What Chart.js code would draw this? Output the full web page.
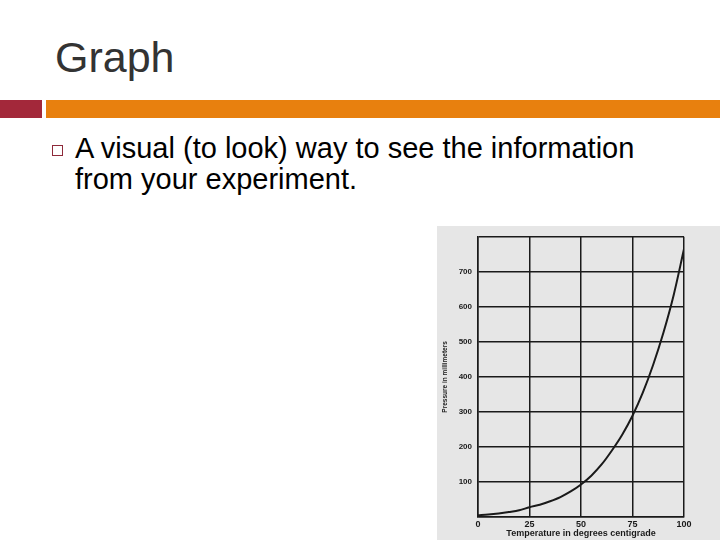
<!DOCTYPE html>
<html>
<head>
<meta charset="utf-8">
<script src="https://cdn.jsdelivr.net/npm/chart.js@4"></script>
<style>
  html, body { margin: 0; padding: 0; background: #fff; }
  #slide { position: relative; width: 720px; height: 540px; overflow: hidden; font-family: "Liberation Sans", Arial, sans-serif; }
  #title { position: absolute; left: 55px; top: 36px; font-size: 43px; color: #333; line-height: 1; }
  #bar-red { position: absolute; left: 0; top: 100px; width: 42px; height: 18px; background: #a3283a; }
  #bar-orange { position: absolute; left: 46px; top: 100px; width: 674px; height: 18px; background: #e8800e; }
  #bullet { position: absolute; left: 52px; top: 145px; width: 9px; height: 9px; border: 1.5px solid #8e2a3a; }
  #text { position: absolute; left: 75px; top: 133px; font-size: 29px; line-height: 31px; color: #000; }
  #scan { position: absolute; left: 437px; top: 226px; width: 283px; height: 314px; background: #e6e6e6; }
</style>
</head>
<body>
<div id="slide">
  <div id="title">Graph</div>
  <div id="bar-red"></div>
  <div id="bar-orange"></div>
  <div id="bullet"></div>
  <div id="text">A visual (to look) way to see the information<br>from your experiment.</div>
  <div id="scan"><canvas id="main-chart" width="283" height="314"></canvas></div>
</div>
<script>
// ── Data ─────────────────────────────────────────────────────────────────────
const temperatures = [0, 5, 10, 15, 20, 25, 30, 35, 40, 45, 50, 55, 60, 65, 70, 75, 80, 85, 90, 95, 100];
const pressures    = [5, 7, 10, 14, 19, 28, 35, 45, 57, 73, 93, 118, 150, 190, 235, 289, 355, 434, 526, 634, 765];
const xTicks = [0, 25, 50, 75, 100];
const yTicks = [100, 200, 300, 400, 500, 600, 700];

const INK = "#1a1a1a";

new Chart(document.getElementById("main-chart"), {
  type: "line",
  data: {
    datasets: [{
      data: temperatures.map((t, i) => ({ x: t, y: pressures[i] })),
      borderColor: INK,
      borderWidth: 2,
      pointRadius: 0,
      cubicInterpolationMode: "monotone",
      fill: false,
    }],
  },
  options: {
    responsive: false,
    animation: false,
    layout: { padding: { top: 9, right: 36, left: 0, bottom: 0 } },
    plugins: { legend: { display: false }, tooltip: { enabled: false } },
    scales: {
      x: {
        type: "linear",
        min: 0, max: 100,
        afterBuildTicks: s => { s.ticks = xTicks.map(v => ({ value: v })); },
        afterFit: s => { s.height = 23; },
        grid: { color: INK, lineWidth: 1.5, drawTicks: false },
        border: { color: INK, width: 1.5 },
        ticks: { color: INK, padding: 2, font: { family: "Liberation Sans", size: 9, weight: "bold" } },
        title: {
          display: true, text: "Temperature in degrees centigrade", color: INK,
          padding: { top: 0, bottom: 1 },
          font: { family: "Liberation Sans", size: 9, weight: "bold" },
        },
      },
      y: {
        min: 0, max: 800,
        afterBuildTicks: s => { s.ticks = [0, ...yTicks, 800].map(v => ({ value: v })); },
        afterFit: s => { s.width = 41; },
        grid: { color: INK, lineWidth: 1.5, drawTicks: false },
        border: { color: INK, width: 1.5 },
        ticks: {
          color: INK, padding: 6,
          font: { family: "Liberation Sans", size: 8, weight: "bold" },
          callback: v => (yTicks.includes(v) ? v : ""),
        },
        title: {
          display: true, text: "Pressure in millimeters", color: INK,
          padding: { top: 4, bottom: 0 },
          font: { family: "Liberation Sans", size: 6.5, weight: "bold" },
        },
      },
    },
  },
});
</script>
</body>
</html>
